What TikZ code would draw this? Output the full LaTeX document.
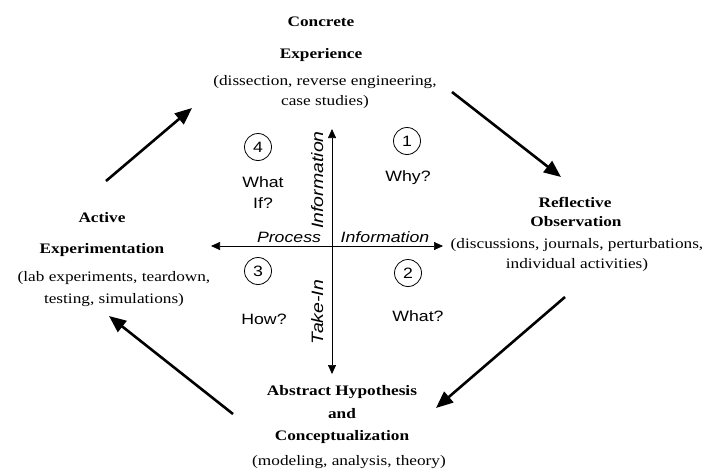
\documentclass[tikz,border=0pt]{standalone}
\usepackage{fontspec}
\setmainfont{Liberation Serif}[FakeStretch=1.19]
\setsansfont{Liberation Sans}[FakeStretch=1.18]
\usetikzlibrary{arrows.meta}
\begin{document}
\begin{tikzpicture}[x=1pt,y=-1pt,
  title/.style={font=\fontsize{14.5}{16}\selectfont\bfseries, inner sep=0pt},
  desc/.style={font=\fontsize{14.5}{20}\selectfont, align=center, inner sep=0pt},
  quad/.style={font=\sffamily\fontsize{15}{21}\selectfont, align=center, inner sep=0pt},
  num/.style={circle, draw, line width=0.8pt, minimum size=27pt, inner sep=0pt, font=\sffamily\fontsize{15}{15}\selectfont},
  axislbl/.style={font=\sffamily\itshape\fontsize{15}{15}\selectfont, inner sep=0pt},
  vlbl/.style={font=\sffamily\itshape\fontsize{16.5}{16.5}\selectfont, inner sep=0pt},
  axis/.style={line width=0.7pt, {Triangle[length=9pt,width=8pt]}-{Triangle[length=9pt,width=8pt]}},
  cyc/.style={line width=2.6pt, -{Triangle[length=17pt,width=14pt]}}]
\useasboundingbox (0,0) rectangle (704,472);
% Concrete Experience
\node[title] (ce1) at (321,22) {Concrete};
\node[title] (ce2) at (321,55) {Experience};
\node[desc] (ced) at (325,92) {(dissection, reverse engineering,\\case studies)};
% Reflective Observation
\node[title] (ro1) at (575,202) {Reflective};
\node[title] (ro2) at (576,222) {Observation};
\node[desc] (rod) at (577,255) {(discussions, journals, perturbations,\\individual activities)};
% Abstract
\node[title] (ah1) at (342,392) {Abstract Hypothesis};
\node[title] (ah2) at (342,414) {and};
\node[title] (ah3) at (342,437) {Conceptualization};
\node[desc] (ahd) at (349,462) {(modeling, analysis, theory)};
% Active Experimentation
\node[title] (ae1) at (102,218) {Active};
\node[title] (ae2) at (102,250) {Experimentation};
\node[desc, font=\fontsize{14.5}{22}\selectfont] (aed) at (114,289) {(lab experiments, teardown,\\testing, simulations)};
% axes
\coordinate (L) at (211,246);
\coordinate (R) at (443,246);
\coordinate (T) at (332,129);
\coordinate (B) at (332,374);
\draw[axis] (L) -- (R);
\draw[axis] (B) -- (T);
\node[axislbl, anchor=base] (pr) at (289,242) {Process};
\node[axislbl, anchor=base] (inf) at (385,242) {Information};
\node[vlbl, rotate=90, anchor=base] (infv) at (323,180) {Information};
\node[vlbl, rotate=90, anchor=base] (tk) at (323,312) {Take-In};
% quadrants
\node[num] (n4) at (258,147) {4};
\node[num] (n1) at (407,141) {1};
\node[num] (n3) at (258,271) {3};
\node[num] (n2) at (408,273) {2};
\node[quad] (q4) at (263,193) {What\\If?};
\node[quad] (q1) at (408,178) {Why?};
\node[quad] (q3) at (264,319) {How?};
\node[quad] (q2) at (418,316) {What?};
% cycle arrows
\coordinate (a1s) at (106,181); \coordinate (a1e) at (192,108);
\coordinate (a2s) at (452,92);  \coordinate (a2e) at (561,177);
\coordinate (a3s) at (565,297); \coordinate (a3e) at (436,408);
\coordinate (a4s) at (233,414); \coordinate (a4e) at (109,316);
\draw[cyc] (a1s) -- (a1e);
\draw[cyc] (a2s) -- (a2e);
\draw[cyc] (a3s) -- (a3e);
\draw[cyc] (a4s) -- (a4e);
\end{tikzpicture}
\end{document}
